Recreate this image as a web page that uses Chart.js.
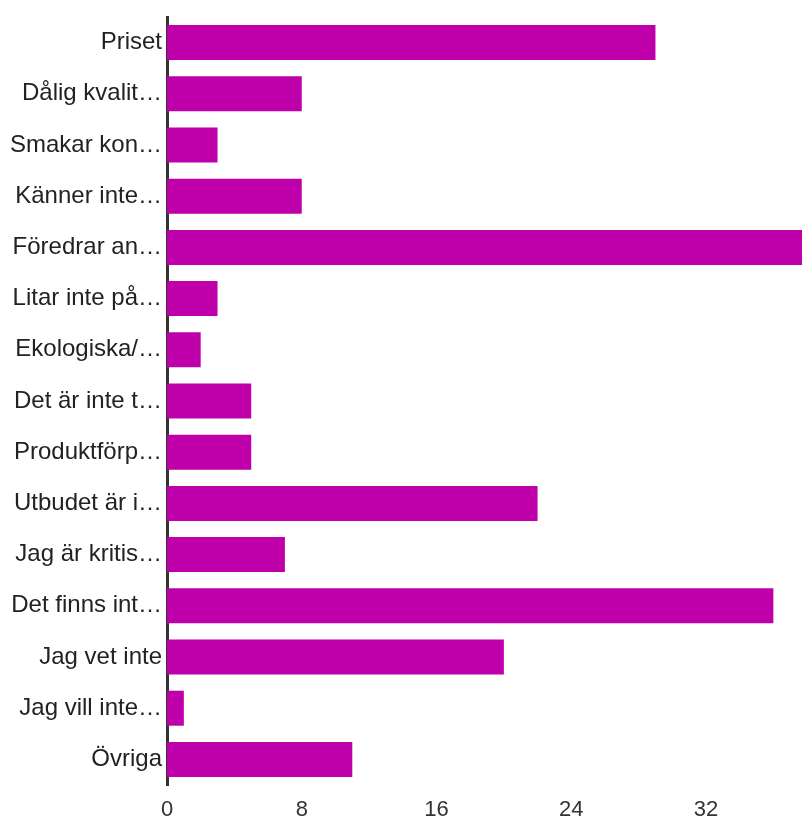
<!DOCTYPE html>
<html>
<head>
<meta charset="utf-8">
<script src="https://cdn.jsdelivr.net/npm/chart.js@4/dist/chart.umd.min.js"></script>
<style>
  html, body { margin: 0; padding: 0; background: #fff; }
  #wrap { width: 802px; height: 820px; }
</style>
</head>
<body>
<div id="wrap"><canvas id="c" width="802" height="820"></canvas></div>
<script>
// Survey answers: reasons given (truncated labels as shown on the axis)
const categories = [
  "Priset",
  "Dålig kvalit…",
  "Smakar kon…",
  "Känner inte…",
  "Föredrar an…",
  "Litar inte på…",
  "Ekologiska/…",
  "Det är inte t…",
  "Produktförp…",
  "Utbudet är i…",
  "Jag är kritis…",
  "Det finns int…",
  "Jag vet inte",
  "Jag vill inte…",
  "Övriga"
];

// Number of respondents per answer
const counts = [29, 8, 3, 8, 38, 3, 2, 5, 5, 22, 7, 36, 20, 1, 11];

// Value-axis tick labels
const xTicks = [0, 8, 16, 24, 32];

const barColor = "#bf00aa";
const fontFamily = "'Liberation Sans', Arial, sans-serif";

new Chart(document.getElementById("c"), {
  type: "bar",
  data: {
    labels: categories,
    datasets: [{
      data: counts,
      backgroundColor: barColor,
      borderWidth: 0,
      categoryPercentage: 0.8,
      barPercentage: 0.855
    }]
  },
  options: {
    indexAxis: "y",
    responsive: false,
    animation: false,
    layout: { padding: { top: 15, right: 0, bottom: 0, left: 0 } },
    plugins: {
      legend: { display: false },
      tooltip: { enabled: false }
    },
    scales: {
      x: {
        min: 0,
        max: 37.7,
        grid: { display: false, drawTicks: false },
        border: { display: false },
        ticks: {
          stepSize: 8,
          padding: 12,
          color: "#333",
          font: { family: fontFamily, size: 22 }
        },
        afterBuildTicks: (scale) => {
          scale.ticks = xTicks.map(v => ({ value: v }));
        },
        afterFit: (scale) => { scale.height = 35; }
      },
      y: {
        grid: { display: false, drawTicks: false },
        border: { display: true, color: "#333", width: 3 },
        ticks: {
          padding: 5,
          color: "#222",
          autoSkip: false,
          font: { family: fontFamily, size: 24, lineHeight: 1 }
        },
        afterFit: (scale) => { scale.width = 167; }
      }
    }
  }
});
</script>
</body>
</html>
